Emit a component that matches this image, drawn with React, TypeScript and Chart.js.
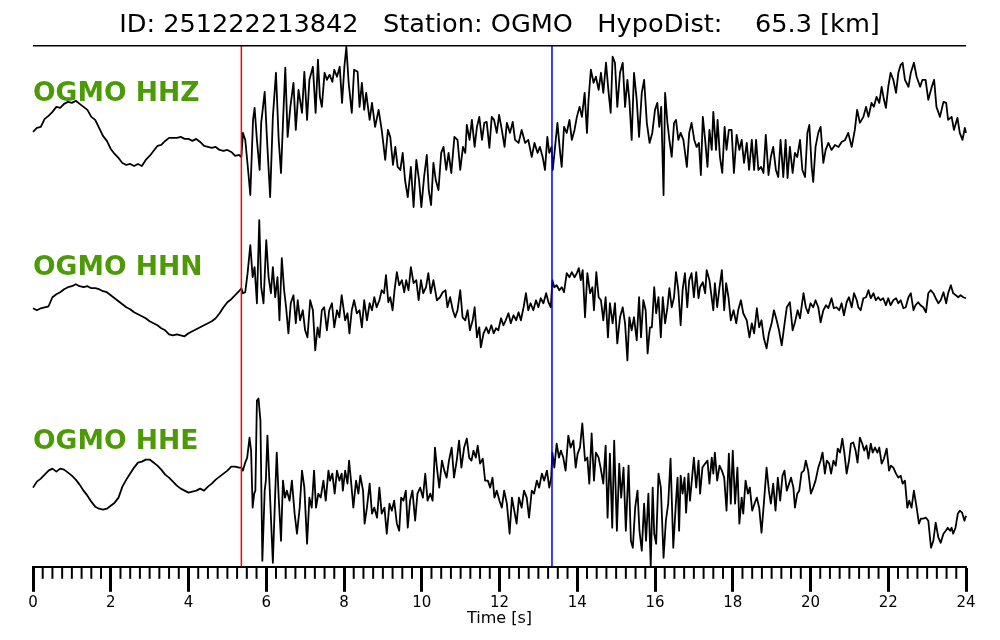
import React, { useEffect, useRef } from 'react';
import { Chart, registerables } from 'chart.js';

Chart.register(...registerables);

const EVENT_ID = '251222213842';
const STATION = 'OGMO';
const HYPO_DIST_KM = 65.3;
const CHANNELS = ['HHZ', 'HHN', 'HHE'];
const P_PICK_S = 5.36;
const S_PICK_S = 13.35;
const TIME_MIN = 0;
const TIME_MAX = 24;
const MAJOR_STEP = 2;
const MINOR_STEP = 0.25;
const X_LABEL = 'Time [s]';
const AMP_MIN = 0;
const AMP_MAX = 520;
const TRACE_OFFSETS = [436, 266, 86];

// [time (s), amplitude] pairs
const HHZ: number[][] = [
  [0, -2], [0.1, 2], [0.2, 3], [0.3, 11], [0.4, 14], [0.5, 18], [0.6, 23], [0.7, 22], [0.8, 26], [0.9, 28],
  [1.0, 27], [1.1, 29], [1.2, 26], [1.3, 23], [1.4, 20], [1.5, 13], [1.6, 10], [1.7, 2], [1.8, -6], [1.9, -11],
  [2.0, -19], [2.1, -24], [2.2, -28], [2.3, -33], [2.4, -35], [2.5, -34], [2.6, -36], [2.7, -34], [2.8, -36], [2.9, -30],
  [3.0, -26], [3.1, -21], [3.2, -16], [3.3, -15], [3.4, -11], [3.5, -8], [3.6, -8], [3.7, -8], [3.8, -7], [3.9, -9],
  [4.0, -9], [4.1, -11], [4.2, -9], [4.3, -12], [4.4, -16], [4.5, -17], [4.6, -18], [4.7, -17], [4.8, -20], [4.9, -21],
  [5.0, -20], [5.1, -22], [5.2, -26], [5.3, -25], [5.36, -27],
  [5.40, -3], [5.46, -10], [5.54, -43], [5.59, -65], [5.66, 10], [5.70, 22], [5.76, -10], [5.83, -40], [5.87, 7], [5.96, 38],
  [6.02, -10], [6.10, -67], [6.17, 13], [6.25, 57], [6.32, -10], [6.38, -43], [6.43, 7], [6.49, 62], [6.55, -7], [6.62, 23],
  [6.70, 47], [6.76, 0], [6.83, 40], [6.92, 17], [6.98, 58], [7.05, 10], [7.11, 50], [7.20, 63], [7.27, 17], [7.33, 70],
  [7.38, 33], [7.43, 23], [7.50, 57], [7.56, 50], [7.63, 55], [7.70, 48], [7.75, 60], [7.82, 53], [7.89, 63], [7.95, 27],
  [8.01, 63], [8.06, 83], [8.12, 47], [8.20, 17], [8.26, 60], [8.35, 58], [8.40, 23], [8.46, 47], [8.52, 20], [8.57, 37],
  [8.66, 10], [8.72, 27], [8.80, 3], [8.89, 20], [8.97, 0], [9.06, -30], [9.13, 0], [9.19, -7], [9.26, -35], [9.32, -17],
  [9.38, -37], [9.45, -40], [9.51, -23], [9.57, -50], [9.64, -67], [9.72, -37], [9.79, -77], [9.86, -30], [9.93, -50], [9.99, -77],
  [10.06, -47], [10.13, -25], [10.18, -60], [10.24, -75], [10.30, -33], [10.36, -50], [10.43, -60], [10.50, -23], [10.56, -17], [10.63, -40],
  [10.69, -23], [10.76, -43], [10.84, -7], [10.92, -10], [10.99, -40], [11.06, -17], [11.12, -23], [11.16, 5], [11.23, -10], [11.29, 10],
  [11.36, -17], [11.42, 3], [11.48, 13], [11.55, -10], [11.61, 7], [11.67, 8], [11.74, -18], [11.80, 13], [11.86, 10], [11.93, -3],
  [11.99, 15], [12.06, 0], [12.13, -17], [12.19, 7], [12.27, -3], [12.34, 8], [12.40, -10], [12.49, -13], [12.57, 0], [12.66, -13],
  [12.74, -10], [12.83, -27], [12.90, -13], [12.98, -23], [13.04, -17], [13.11, -27], [13.17, -40], [13.23, -7], [13.28, -23], [13.34, -17],
  [13.37, -40], [13.43, -17], [13.49, 7], [13.56, -23], [13.60, -37], [13.66, 3], [13.73, -3], [13.80, 10], [13.86, -10], [13.93, 0],
  [13.99, 13], [14.06, 23], [14.12, 13], [14.19, 37], [14.25, -3], [14.29, 30], [14.35, 60], [14.42, 47], [14.48, 53], [14.55, 40],
  [14.61, 57], [14.67, 37], [14.74, 67], [14.80, 40], [14.86, 17], [14.91, 73], [14.97, 67], [15.03, 23], [15.10, 57], [15.17, 67],
  [15.23, 23], [15.29, 50], [15.34, 30], [15.40, -10], [15.46, 57], [15.53, 30], [15.59, -7], [15.66, 37], [15.72, 50], [15.79, 7],
  [15.86, -13], [15.93, -3], [16.00, 20], [16.06, 27], [16.11, 3], [16.16, 23], [16.22, -65], [16.26, 37], [16.32, 7], [16.37, -10],
  [16.43, -27], [16.49, 7], [16.54, 10], [16.60, -10], [16.66, -3], [16.73, -10], [16.82, -37], [16.88, -3], [16.94, 7], [17.01, -10],
  [17.07, -17], [17.13, -13], [17.18, -45], [17.23, 13], [17.29, -10], [17.35, -37], [17.40, 0], [17.46, -20], [17.50, 18], [17.57, -20],
  [17.61, 10], [17.67, -27], [17.73, -43], [17.79, 3], [17.84, -20], [17.90, 0], [17.97, 0], [18.03, -43], [18.10, -5], [18.17, -20],
  [18.23, -10], [18.29, -33], [18.36, -13], [18.42, -40], [18.49, -10], [18.55, -40], [18.60, -10], [18.66, -40], [18.73, -37], [18.79, -43],
  [18.85, -5], [18.92, -45], [18.98, -27], [19.04, -17], [19.11, -40], [19.17, -47], [19.23, -10], [19.30, -47], [19.36, -10], [19.41, -48],
  [19.47, -17], [19.54, -43], [19.60, -23], [19.66, -27], [19.73, -10], [19.79, -40], [19.86, -47], [19.92, -3], [19.97, 5], [20.03, -37],
  [20.07, -52], [20.13, -17], [20.20, -3], [20.26, 3], [20.33, -33], [20.39, -20], [20.46, -13], [20.54, -20], [20.63, -15], [20.72, -17],
  [20.80, -12], [20.89, -10], [20.97, -3], [21.06, -17], [21.14, 0], [21.20, 20], [21.27, 7], [21.36, 13], [21.43, 23], [21.49, 13],
  [21.57, 27], [21.63, 23], [21.70, 33], [21.77, 27], [21.83, 43], [21.89, 30], [21.94, 22], [22.00, 43], [22.06, 57], [22.13, 50],
  [22.20, 37], [22.26, 57], [22.32, 65], [22.37, 67], [22.43, 50], [22.52, 43], [22.58, 57], [22.66, 67], [22.73, 53], [22.82, 43],
  [22.88, 50], [22.96, 50], [23.03, 30], [23.12, 43], [23.18, 50], [23.24, 23], [23.33, 13], [23.42, 28], [23.49, 27], [23.54, 10],
  [23.63, 13], [23.69, 0], [23.78, 12], [23.84, -3], [23.91, -10], [23.97, 2], [24.0, -3],
];

const HHN: number[][] = [
  [0, -8], [0.1, -10], [0.2, -8], [0.3, -7], [0.4, -6], [0.5, 3], [0.6, 6], [0.7, 8], [0.8, 11], [0.9, 13],
  [1.0, 14], [1.1, 16], [1.2, 14], [1.3, 13], [1.4, 14], [1.5, 12], [1.6, 12], [1.7, 11], [1.8, 9], [1.9, 8],
  [2.0, 5], [2.1, 2], [2.2, -1], [2.3, -4], [2.4, -7], [2.5, -9], [2.6, -12], [2.7, -14], [2.8, -16], [2.9, -18],
  [3.0, -21], [3.1, -23], [3.2, -25], [3.3, -28], [3.4, -30], [3.5, -34], [3.6, -35], [3.7, -34], [3.8, -35], [3.9, -36],
  [4.0, -33], [4.1, -31], [4.2, -29], [4.3, -27], [4.4, -25], [4.5, -23], [4.6, -21], [4.7, -18], [4.8, -13], [4.9, -7],
  [5.0, -2], [5.1, 1], [5.2, 5], [5.3, 9], [5.36, 12],
  [5.40, 7], [5.46, 8], [5.52, 27], [5.59, 55], [5.65, 23], [5.70, 33], [5.76, -3], [5.82, 80], [5.87, 13], [5.93, -3],
  [6.00, 60], [6.06, 23], [6.12, 7], [6.17, 33], [6.23, 3], [6.29, 23], [6.34, -20], [6.40, 42], [6.46, 10], [6.51, -7],
  [6.57, -33], [6.63, -3], [6.70, 5], [6.76, -23], [6.81, 0], [6.87, -20], [6.94, -10], [7.00, -30], [7.06, -37], [7.13, 0],
  [7.20, -10], [7.26, -50], [7.32, -27], [7.37, -37], [7.43, -10], [7.49, -7], [7.56, -30], [7.62, -10], [7.69, -3], [7.75, -27],
  [7.82, -10], [7.88, -17], [7.94, 5], [8.03, -20], [8.09, -13], [8.14, -33], [8.20, -10], [8.26, 0], [8.33, -13], [8.40, -10],
  [8.46, -27], [8.52, 0], [8.59, -20], [8.66, -3], [8.72, -10], [8.78, 3], [8.84, -7], [8.91, 0], [8.97, 10], [9.03, 7],
  [9.08, 25], [9.14, -2], [9.19, 3], [9.25, -10], [9.30, 10], [9.36, 28], [9.42, 15], [9.49, 20], [9.55, 8], [9.60, 20],
  [9.66, 10], [9.72, 33], [9.79, 17], [9.86, 20], [9.92, 0], [9.98, 20], [10.04, 7], [10.11, 13], [10.17, 27], [10.23, 7],
  [10.30, 20], [10.39, 0], [10.47, 3], [10.54, 8], [10.61, 10], [10.66, -7], [10.73, 3], [10.80, -10], [10.86, -17], [10.92, -10],
  [10.99, 10], [11.05, -17], [11.12, -20], [11.18, -10], [11.24, -30], [11.31, -20], [11.36, -7], [11.42, -37], [11.48, -27], [11.52, -47],
  [11.59, -33], [11.66, -27], [11.72, -33], [11.79, -25], [11.85, -33], [11.91, -28], [11.97, -30], [12.04, -18], [12.10, -25], [12.16, -20],
  [12.23, -13], [12.29, -23], [12.36, -15], [12.43, -20], [12.49, -12], [12.55, -20], [12.62, -7], [12.68, 7], [12.74, -10], [12.80, -3],
  [12.87, -10], [12.94, 0], [13.00, -7], [13.06, 2], [13.13, -3], [13.20, 7], [13.26, -2], [13.32, -7], [13.36, 20], [13.41, 13],
  [13.47, 15], [13.54, 10], [13.60, 13], [13.66, 8], [13.73, 27], [13.80, 23], [13.86, 28], [13.93, 23], [13.99, 27], [14.04, 32],
  [14.09, 20], [14.14, 30], [14.20, -17], [14.26, 27], [14.33, 7], [14.39, 13], [14.43, -10], [14.49, 28], [14.55, 3], [14.61, 0],
  [14.67, -20], [14.73, 3], [14.79, -37], [14.84, -3], [14.91, -23], [14.97, -3], [15.03, -43], [15.10, -17], [15.17, -7], [15.23, -23],
  [15.29, -60], [15.34, -17], [15.40, -30], [15.46, -17], [15.53, -40], [15.59, 3], [15.64, -37], [15.70, 0], [15.76, -10], [15.81, -53],
  [15.87, -27], [15.92, -27], [15.98, 13], [16.03, -13], [16.09, 3], [16.15, -37], [16.20, 3], [16.26, -23], [16.32, -7], [16.37, 12],
  [16.43, -7], [16.49, 3], [16.54, 28], [16.60, 10], [16.66, -25], [16.71, 10], [16.77, 27], [16.83, -7], [16.88, 20], [16.94, 27],
  [17.00, 3], [17.06, 28], [17.12, 2], [17.16, 13], [17.23, 18], [17.29, 7], [17.33, 30], [17.40, 20], [17.44, 8], [17.50, -10],
  [17.54, 17], [17.60, -7], [17.66, 13], [17.72, 30], [17.78, -10], [17.83, 17], [17.89, 3], [17.95, -20], [18.02, -10], [18.09, -23],
  [18.14, -10], [18.21, 0], [18.27, -13], [18.36, -20], [18.43, -37], [18.49, -23], [18.55, -33], [18.62, -8], [18.68, -27], [18.74, -20],
  [18.80, -38], [18.87, -48], [18.93, -33], [19.00, -23], [19.06, -10], [19.13, -20], [19.19, -30], [19.26, -45], [19.32, -27], [19.39, -7],
  [19.47, -2], [19.54, -30], [19.60, -22], [19.67, -10], [19.73, -18], [19.82, 7], [19.88, -7], [19.94, -13], [20.00, -3], [20.07, -7],
  [20.13, 0], [20.20, -7], [20.26, -22], [20.33, -10], [20.40, -5], [20.46, -8], [20.54, 2], [20.60, -8], [20.67, -7], [20.74, -10],
  [20.80, -3], [20.86, -15], [20.93, -2], [20.99, 3], [21.06, -7], [21.12, 7], [21.19, 0], [21.23, -7], [21.29, -10], [21.36, 2],
  [21.43, 3], [21.49, 10], [21.55, 2], [21.62, 7], [21.68, 0], [21.74, 3], [21.80, 0], [21.87, 2], [21.94, -5], [22.00, 2],
  [22.06, -5], [22.13, 0], [22.20, 2], [22.26, -3], [22.32, 0], [22.39, -8], [22.45, -7], [22.52, 3], [22.58, 7], [22.65, -10],
  [22.70, -5], [22.77, -2], [22.83, -5], [22.90, -7], [22.97, -12], [23.03, 7], [23.09, 10], [23.16, 7], [23.22, 2], [23.29, -3],
  [23.35, 0], [23.42, 8], [23.49, -3], [23.54, 7], [23.61, 15], [23.67, 7], [23.74, 5], [23.80, 3], [23.86, 5], [23.93, 3],
  [24.0, 2],
];

const HHE: number[][] = [
  [0, -7], [0.1, -1], [0.2, 2], [0.3, 6], [0.4, 10], [0.5, 12], [0.6, 9], [0.7, 12], [0.8, 11], [0.9, 8],
  [1.0, 5], [1.1, 1], [1.2, -4], [1.3, -10], [1.4, -15], [1.5, -21], [1.6, -26], [1.7, -28], [1.8, -29], [1.9, -28],
  [2.0, -25], [2.1, -22], [2.2, -17], [2.3, -6], [2.4, 1], [2.5, 7], [2.6, 13], [2.7, 18], [2.8, 19], [2.9, 21],
  [3.0, 21], [3.1, 18], [3.2, 15], [3.3, 11], [3.4, 6], [3.5, 3], [3.6, -1], [3.7, -5], [3.8, -8], [3.9, -10],
  [4.0, -12], [4.1, -11], [4.2, -10], [4.3, -8], [4.4, -10], [4.5, -6], [4.6, -3], [4.7, 1], [4.8, 4], [4.9, 7],
  [5.0, 10], [5.1, 14], [5.2, 14], [5.3, 13], [5.36, 13],
  [5.40, 10], [5.46, 18], [5.51, 23], [5.57, 43], [5.61, 30], [5.65, -27], [5.69, -13], [5.72, -10], [5.76, 80], [5.80, 82],
  [5.85, 60], [5.90, -80], [5.96, -10], [5.99, 0], [6.03, 45], [6.08, 0], [6.17, -82], [6.23, -13], [6.27, 28], [6.32, -17],
  [6.38, -60], [6.43, 0], [6.48, -17], [6.53, -10], [6.60, -20], [6.66, 0], [6.73, -33], [6.79, -53], [6.86, -27], [6.92, 10],
  [6.98, -7], [7.05, -63], [7.11, -17], [7.17, -27], [7.23, 10], [7.28, -27], [7.34, -13], [7.40, -17], [7.47, 0], [7.53, -20],
  [7.60, 10], [7.64, 0], [7.70, 7], [7.76, -13], [7.82, 10], [7.88, 0], [7.94, 7], [7.97, -10], [8.03, 10], [8.09, -3],
  [8.13, 20], [8.18, 0], [8.24, -27], [8.31, 0], [8.37, -13], [8.42, 5], [8.49, -10], [8.53, -43], [8.59, -27], [8.66, -3],
  [8.72, -33], [8.78, -27], [8.85, -37], [8.91, -7], [8.97, -33], [9.04, -27], [9.10, -53], [9.17, -23], [9.23, -30], [9.29, -20],
  [9.36, -43], [9.42, -50], [9.47, -17], [9.53, -20], [9.59, -10], [9.64, -47], [9.70, -20], [9.76, -10], [9.83, -40], [9.89, -13],
  [9.96, -7], [10.03, -17], [10.09, 7], [10.15, -20], [10.22, -13], [10.28, -20], [10.34, 33], [10.39, 13], [10.45, -7], [10.52, 20],
  [10.58, 10], [10.64, 3], [10.70, 20], [10.77, 33], [10.83, 3], [10.90, 20], [10.96, 40], [11.02, 13], [11.09, 33], [11.16, 42],
  [11.22, 23], [11.28, 20], [11.33, 30], [11.39, 23], [11.44, 35], [11.50, 17], [11.57, 22], [11.63, 0], [11.70, 0], [11.76, -7],
  [11.82, 3], [11.87, -17], [11.93, -10], [12.00, -20], [12.06, -27], [12.12, -10], [12.19, -23], [12.26, -53], [12.32, -17], [12.38, -30],
  [12.44, -43], [12.50, -17], [12.57, -27], [12.63, -10], [12.70, -17], [12.76, -37], [12.83, -10], [12.89, -13], [12.96, 0], [13.02, -7],
  [13.09, 7], [13.15, 0], [13.22, 10], [13.28, -7], [13.33, 3], [13.36, 28], [13.41, 13], [13.47, 37], [13.53, 23], [13.58, 30],
  [13.64, 23], [13.70, 10], [13.77, 45], [13.83, 33], [13.90, 40], [13.96, 13], [14.01, 27], [14.07, 33], [14.13, 57], [14.20, 20],
  [14.26, 23], [14.31, -3], [14.37, 47], [14.43, 0], [14.48, 28], [14.55, 23], [14.60, 13], [14.67, -3], [14.73, 35], [14.78, -37],
  [14.84, 27], [14.90, -47], [14.95, 40], [15.02, -50], [15.08, 17], [15.13, -17], [15.19, 13], [15.25, -50], [15.32, 15], [15.38, -60],
  [15.43, -67], [15.49, -27], [15.55, -10], [15.60, -50], [15.66, -70], [15.72, -23], [15.77, -60], [15.83, -13], [15.89, -85], [15.94, -7],
  [15.98, -53], [16.03, -63], [16.09, 7], [16.15, -7], [16.22, -77], [16.28, -40], [16.34, -23], [16.40, 22], [16.47, -67], [16.53, -27],
  [16.58, 3], [16.62, -50], [16.66, 5], [16.71, -13], [16.76, 3], [16.80, -32], [16.86, 7], [16.90, -20], [16.94, -3], [17.00, 23],
  [17.06, -7], [17.12, 20], [17.16, -13], [17.22, 13], [17.29, 17], [17.35, 20], [17.40, -3], [17.46, 23], [17.50, 7], [17.54, 28],
  [17.60, 0], [17.66, 15], [17.72, 10], [17.78, 3], [17.84, -30], [17.90, 27], [17.95, -23], [18.00, 30], [18.06, -23], [18.12, 13],
  [18.17, -43], [18.23, -17], [18.27, -33], [18.33, 0], [18.39, -13], [18.44, -7], [18.50, -30], [18.56, -23], [18.62, -17], [18.68, -27],
  [18.74, -52], [18.80, -23], [18.87, 13], [18.93, -10], [18.98, -23], [19.04, -3], [19.10, -30], [19.16, 3], [19.22, -20], [19.28, 5],
  [19.33, 10], [19.39, -10], [19.45, -3], [19.50, 3], [19.56, -7], [19.60, -27], [19.66, -13], [19.71, -10], [19.77, 8], [19.83, 10],
  [19.88, 20], [19.94, 10], [20.01, -13], [20.07, -7], [20.13, 0], [20.20, 13], [20.26, 20], [20.31, 28], [20.37, 7], [20.42, 20],
  [20.48, 17], [20.53, 7], [20.59, 20], [20.65, 15], [20.70, 32], [20.76, 28], [20.82, 42], [20.87, 28], [20.93, 7], [20.99, 20],
  [21.04, 37], [21.10, 38], [21.16, 30], [21.21, 18], [21.27, 43], [21.33, 37], [21.38, 30], [21.44, 35], [21.49, 22], [21.55, 37],
  [21.60, 28], [21.66, 33], [21.72, 28], [21.77, 33], [21.83, 17], [21.89, 22], [21.96, 32], [22.02, 10], [22.07, 15], [22.13, 13],
  [22.20, 7], [22.26, 3], [22.32, 5], [22.37, -3], [22.43, 0], [22.49, -27], [22.54, -20], [22.60, -27], [22.66, -10], [22.73, -27],
  [22.79, -43], [22.84, -38], [22.90, -38], [22.97, -37], [23.03, -40], [23.10, -67], [23.16, -60], [23.22, -42], [23.29, -57], [23.35, -62],
  [23.42, -53], [23.48, -50], [23.53, -47], [23.59, -50], [23.63, -47], [23.67, -53], [23.73, -47], [23.79, -33], [23.84, -30], [23.90, -32],
  [23.96, -40], [24.0, -35],
];

const TRACES = [HHZ, HHN, HHE];

const TITLE_TEXT = `ID: ${EVENT_ID}   Station: ${STATION}   HypoDist:    ${HYPO_DIST_KM.toFixed(1)} [km]`;
const LABEL_COLOR = '#4c9a06';
const FONT = '"DejaVu Sans", sans-serif';

const overlayPlugin = {
  id: 'seismoOverlay',
  afterDraw(chart: any) {
    const { ctx, chartArea, scales } = chart;
    const xs = scales.x;
    ctx.save();
    // top frame line
    ctx.strokeStyle = '#000';
    ctx.lineWidth = 1.5;
    ctx.beginPath();
    ctx.moveTo(chartArea.left, chartArea.top);
    ctx.lineTo(chartArea.right, chartArea.top);
    ctx.stroke();
    // minor ticks
    ctx.lineWidth = 2;
    const n = Math.round((TIME_MAX - TIME_MIN) / MINOR_STEP);
    for (let i = 0; i <= n; i++) {
      const v = TIME_MIN + i * MINOR_STEP;
      const r = v / MAJOR_STEP;
      if (Math.abs(r - Math.round(r)) < 1e-6) continue;
      const px = xs.getPixelForValue(v);
      ctx.beginPath();
      ctx.moveTo(px, chartArea.bottom);
      ctx.lineTo(px, chartArea.bottom + 12);
      ctx.stroke();
    }
    // channel labels
    ctx.fillStyle = LABEL_COLOR;
    ctx.font = `bold 26.6px ${FONT}`;
    ctx.textAlign = 'left';
    ctx.textBaseline = 'middle';
    const h = (chartArea.bottom - chartArea.top) / CHANNELS.length;
    CHANNELS.forEach((c, i) => {
      ctx.fillText(`${STATION} ${c}`, chartArea.left, chartArea.top + i * h + h * 0.28);
    });
    ctx.restore();
  },
};

export default function App() {
  const ref = useRef<HTMLCanvasElement | null>(null);
  useEffect(() => {
    document.body.style.margin = '0';
    if (!ref.current) return;
    const traceSets = TRACES.map((tr, i) => ({
      label: CHANNELS[i],
      data: tr.map(([t, a]) => ({ x: t, y: TRACE_OFFSETS[i] + a })),
      borderColor: '#000',
      borderWidth: 1.8,
      pointRadius: 0,
      tension: 0,
      borderJoinStyle: 'round' as const,
      clip: false as any,
      order: 2,
    }));
    const pickSet = (t: number, color: string, name: string) => ({
      label: name,
      data: [{ x: t, y: AMP_MIN }, { x: t, y: AMP_MAX }],
      borderColor: color,
      borderWidth: 1.5,
      pointRadius: 0,
      order: 1,
    });
    const chart = new Chart(ref.current, {
      type: 'line',
      data: {
        datasets: [...traceSets, pickSet(P_PICK_S, '#ff0000', 'P'), pickSet(S_PICK_S, '#0000ff', 'S')] as any,
      },
      options: {
        responsive: false,
        animation: false,
        layout: { padding: { left: 33, right: 34, top: 0, bottom: 7 } },
        plugins: {
          legend: { display: false },
          tooltip: { enabled: false },
          title: {
            display: true,
            text: TITLE_TEXT,
            color: '#000',
            font: { family: FONT, size: 25.6, weight: 'normal' as any, lineHeight: 1.2 },
            padding: { top: 10, bottom: 5 },
          },
        },
        scales: {
          x: {
            type: 'linear',
            min: TIME_MIN,
            max: TIME_MAX,
            ticks: {
              stepSize: MAJOR_STEP,
              autoSkip: false,
              maxRotation: 0,
              color: '#000',
              padding: 2,
              font: { family: FONT, size: 15 },
            },
            grid: {
              drawOnChartArea: false,
              drawTicks: true,
              tickLength: 25,
              tickWidth: 3,
              tickColor: '#000',
            },
            border: { display: true, color: '#000', width: 2 },
            title: {
              display: true,
              text: X_LABEL,
              color: '#000',
              font: { family: FONT, size: 16 },
              padding: { top: -5, bottom: 5 },
            },
          },
          y: {
            display: false,
            min: AMP_MIN,
            max: AMP_MAX,
          },
        },
      },
      plugins: [overlayPlugin],
    });
    return () => chart.destroy();
  }, []);
  return (
    <div style={{ width: 1000, height: 640 }}>
      <canvas ref={ref} width={1000} height={640} />
    </div>
  );
}
